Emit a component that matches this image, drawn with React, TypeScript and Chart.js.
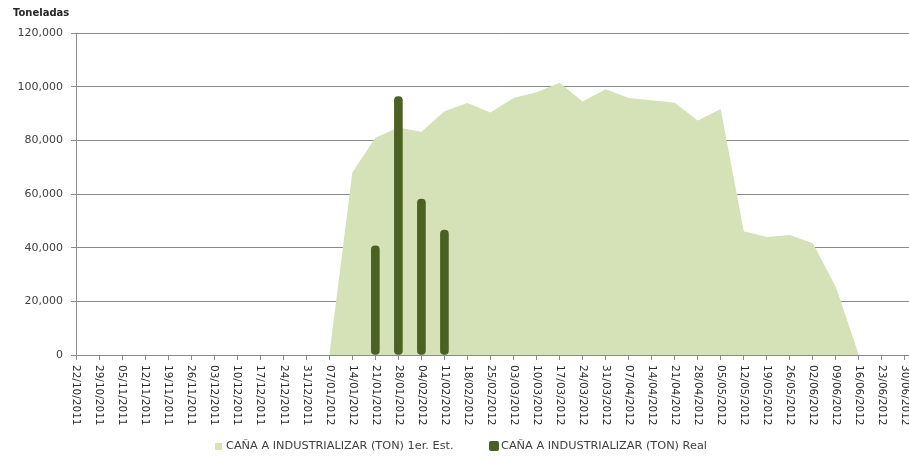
import React, { useEffect, useRef } from 'react';
import { Chart, registerables } from 'chart.js';

Chart.register(...registerables);

const weekLabels = [
  '22/10/2011', '29/10/2011', '05/11/2011', '12/11/2011', '19/11/2011', '26/11/2011',
  '03/12/2011', '10/12/2011', '17/12/2011', '24/12/2011', '31/12/2011',
  '07/01/2012', '14/01/2012', '21/01/2012', '28/01/2012', '04/02/2012', '11/02/2012',
  '18/02/2012', '25/02/2012', '03/03/2012', '10/03/2012', '17/03/2012', '24/03/2012',
  '31/03/2012', '07/04/2012', '14/04/2012', '21/04/2012', '28/04/2012', '05/05/2012',
  '12/05/2012', '19/05/2012', '26/05/2012', '02/06/2012', '09/06/2012', '16/06/2012',
  '23/06/2012', '30/06/2012', '07/07/2012',
];

const estTon = [
  0, 0, 0, 0, 0, 0,
  0, 0, 0, 0, 0,
  0, 68000, 81000, 84800, 83200, 90800,
  93900, 90400, 95800, 97900, 101500, 94500,
  99000, 95800, 94900, 94000, 87400, 91700,
  46100, 44000, 44700, 41600, 25300, 0,
  0, 0, 0,
];

const realTon = [
  null, null, null, null, null, null,
  null, null, null, null, null,
  null, null, 40700, 96300, 58100, 46600,
  null, null, null, null, null, null,
  null, null, null, null, null, null,
  null, null, null, null, null, null,
  null, null, null,
];

const yAxisTitle = 'Toneladas';
const estName = 'CAÑA A INDUSTRIALIZAR (TON) 1er. Est.';
const realName = 'CAÑA A INDUSTRIALIZAR (TON) Real';

const FONT = '"DejaVu Sans", sans-serif';
const EST_COLOR = '#d5e2b8';
const REAL_COLOR = '#4b6124';
const GRID = '#8a8a8a';
const TEXT = '#404040';

export default function App() {
  const ref = useRef<HTMLCanvasElement>(null);

  useEffect(() => {
    if (!ref.current) return;
    const textPlugin = {
      id: 'textPlugin',
      afterDraw(chart: any) {
        const ctx = chart.ctx as CanvasRenderingContext2D;
        const xs = chart.scales.x;
        const area = chart.chartArea;
        ctx.save();
        ctx.fillStyle = '#262626';
        ctx.font = `bold 10px ${FONT}`;
        ctx.textBaseline = 'middle';
        ctx.textAlign = 'left';
        ctx.fillText(yAxisTitle, 13, 13);

        ctx.font = `10.5px ${FONT}`;
        ctx.fillStyle = '#2a2a2a';
        weekLabels.forEach((lab, i) => {
          const px = xs.getPixelForValue(i);
          ctx.save();
          ctx.translate(px, area.bottom + 10);
          ctx.rotate(Math.PI / 2);
          ctx.textAlign = 'left';
          ctx.textBaseline = 'middle';
          ctx.fillText(lab, 0, 0);
          ctx.restore();
        });

        // legend
        ctx.font = `11.3px ${FONT}`;
        ctx.textBaseline = 'middle';
        ctx.fillStyle = EST_COLOR;
        ctx.fillRect(215, 443, 7, 7);
        ctx.fillStyle = TEXT;
        ctx.fillText(estName, 226, 446.5);
        ctx.fillStyle = REAL_COLOR;
        ctx.beginPath();
        (ctx as any).roundRect(489, 441, 10, 10, 2);
        ctx.fill();
        ctx.fillStyle = TEXT;
        ctx.fillText(realName, 501, 446.5);
        ctx.restore();
      },
    };

    const chart = new Chart(ref.current, {
      type: 'bar',
      data: {
        labels: weekLabels,
        datasets: [
          {
            type: 'bar',
            label: realName,
            data: realTon as any,
            backgroundColor: REAL_COLOR,
            barThickness: 8,
            borderRadius: 4,
            borderSkipped: false,
            order: 0,
          } as any,
          {
            type: 'line',
            label: estName,
            data: estTon,
            fill: 'origin',
            backgroundColor: EST_COLOR,
            borderColor: EST_COLOR,
            borderWidth: 0,
            pointRadius: 0,
            tension: 0,
            order: 1,
          } as any,
        ],
      },
      options: {
        animation: false,
        responsive: false,
        maintainAspectRatio: false,
        layout: { padding: { left: 0, right: 12, top: 33, bottom: 0 } },
        plugins: {
          legend: { display: false },
          tooltip: { enabled: false },
        },
        scales: {
          x: {
            offset: false,
            grid: {
              display: true,
              offset: false,
              drawOnChartArea: false,
              drawTicks: true,
              tickLength: 5,
              color: GRID,
            },
            border: { display: true, color: GRID },
            ticks: { display: false, autoSkip: false },
            afterFit: (s: any) => { s.height = 108; },
          },
          y: {
            min: 0,
            max: 120000,
            ticks: {
              stepSize: 20000,
              padding: 8,
              color: TEXT,
              font: { family: FONT, size: 11 },
              callback: (v: any) => Number(v).toLocaleString('en-US'),
            },
            grid: { color: GRID, tickLength: 5, drawTicks: true },
            border: { display: true, color: GRID },
            afterFit: (s: any) => { s.width = 76; },
          },
        },
      },
      plugins: [textPlugin],
    });
    return () => chart.destroy();
  }, []);

  return (
    <div style={{ position: 'absolute', left: 0, top: 0, width: 909, height: 463, overflow: 'hidden', background: '#fff' }}>
      <canvas ref={ref} width={940} height={463} style={{ width: 940, height: 463, display: 'block' }} />
    </div>
  );
}
